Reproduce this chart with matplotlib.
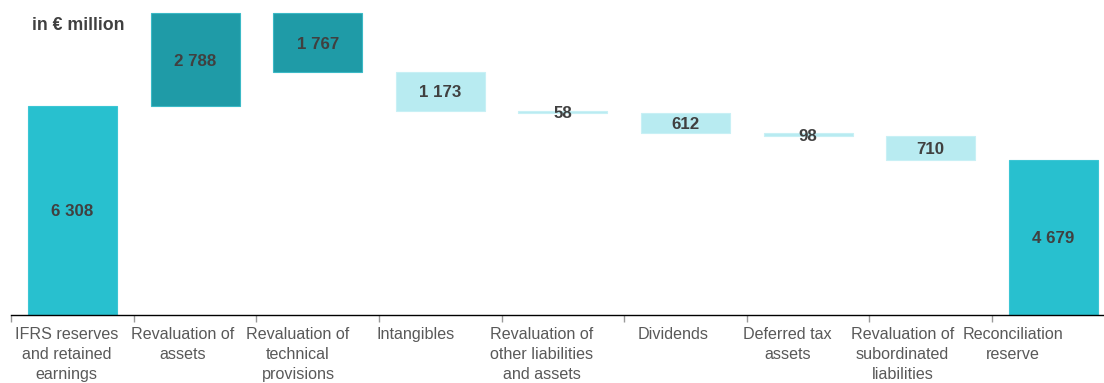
import matplotlib
matplotlib.use("Agg")
import matplotlib.pyplot as plt
import matplotlib.transforms as mtransforms
import numpy as np

# ---- data ----
categories = [
    "IFRS reserves\nand retained\nearnings",
    "Revaluation of\nassets",
    "Revaluation of\ntechnical\nprovisions",
    "Intangibles",
    "Revaluation of\nother liabilities\nand assets",
    "Dividends",
    "Deferred tax\nassets",
    "Revaluation of\nsubordinated\nliabilities",
    "Reconciliation\nreserve",
]
values = [6308, 2788, -1767, -1173, -58, -612, -98, -710, 4679]
value_labels = ["6 308", "2 788", "1 767", "1 173", "58", "612", "98", "710", "4 679"]
bar_kind = ["total", "dark", "dark", "light", "light", "light", "light", "light", "total"]
unit_label = "in € million"

colors = {"total": "#28c0cf", "dark": "#1f9ba7", "light": "#b8ebf1"}
edges = {"total": "#3cc6d4", "dark": "#3bb9c6", "light": "#c8f0f5"}

plt.rcParams["font.family"] = ["Liberation Sans", "DejaVu Sans"]

W, H = 1104, 383
fig = plt.figure(figsize=(W / 100, H / 100), dpi=100)
axis_y = 315
left_px = 11.2
cat_w = 122.6
ax = fig.add_axes([left_px / W, (H - axis_y) / H, cat_w * len(categories) / W, axis_y / H])

x = np.arange(len(categories))
bottoms, heights = [], []
running = 0
for v, k in zip(values, bar_kind):
    if k == "total":
        bottoms.append(0)
        heights.append(v)
        running = v
    else:
        if v >= 0:
            bottoms.append(running)
        else:
            bottoms.append(running + v)
        heights.append(abs(v))
        running += v

bw = 0.725
for xi, b, h, k in zip(x, bottoms, heights, bar_kind):
    hh = max(h, 80)
    bb = b + h / 2 - hh / 2
    ax.bar(xi, hh, bottom=bb, width=bw, color=colors[k], edgecolor=edges[k], linewidth=0.8)

for xi, b, h, lab in zip(x, bottoms, heights, value_labels):
    ax.text(xi, b + h / 2, lab, ha="center", va="center_baseline", fontsize=12.2,
            fontweight="bold", color="#404040")

ax.set_xlim(-0.5, len(categories) - 0.5)
ax.set_ylim(0, 9500)
for s in ["top", "right", "left"]:
    ax.spines[s].set_visible(False)
ax.spines["bottom"].set_color("#000000")
ax.spines["bottom"].set_linewidth(1.0)
ax.set_yticks([])
ax.set_xticks(np.arange(len(categories) + 1) - 0.5)
ax.set_xticklabels([])
ax.tick_params(axis="x", length=5, width=1, color="#999999", direction="out")

label_shift = [-0.05, -0.1, -0.16, -0.2, -0.17, -0.1, -0.17, -0.23, -0.33]
trans = mtransforms.blended_transform_factory(ax.transData, fig.transFigure)
for xi, lab, sh in zip(x, categories, label_shift):
    ax.text(xi + sh, (H - 327) / H, lab, transform=trans, ha="center", va="top",
            fontsize=11.6, color="#595959", linespacing=1.42, multialignment="center",
            clip_on=False)

fig.text(32 / W, (H - 25) / H, unit_label, ha="left", va="center", fontsize=12.8,
         fontweight="bold", color="#404040")

fig.savefig("out.png", dpi=100)
